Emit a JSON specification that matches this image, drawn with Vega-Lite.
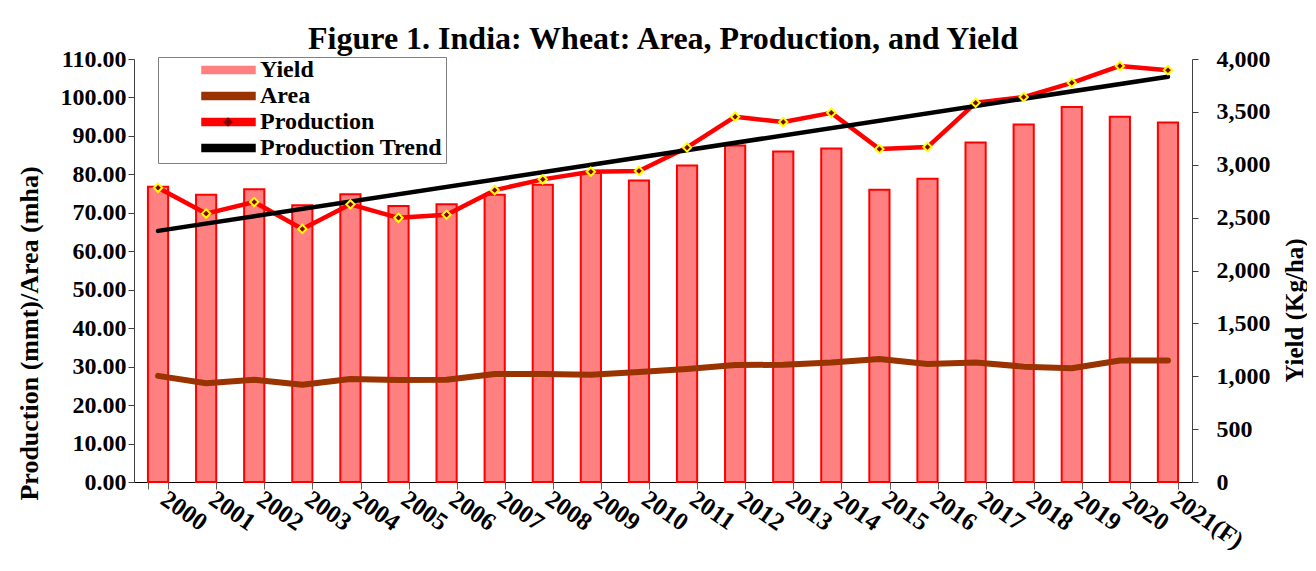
{
  "$schema": "https://vega.github.io/schema/vega-lite/v6.json",
  "width": 1058,
  "height": 423,
  "padding": {"left": 16, "top": 23, "right": 0, "bottom": 0},
  "background": "white",
  "title": {
    "text": "Figure 1. India: Wheat: Area, Production, and Yield",
    "font": "Liberation Serif",
    "fontSize": 32,
    "fontWeight": "bold",
    "color": "black",
    "anchor": "middle",
    "offset": -9
  },
  "config": {
    "view": {"stroke": null},
    "axis": {"grid": false, "labelFont": "Liberation Serif", "titleFont": "Liberation Serif", "labelColor": "black", "titleColor": "black", "labelFontWeight": "bold", "titleFontWeight": "bold"}
  },
  "data": {
    "values": [
      {"year": "2000", "yield": 2791, "area": 27.6, "production": 76.5, "trend": 65.3},
      {"year": "2001", "yield": 2716, "area": 25.7, "production": 69.8, "trend": null},
      {"year": "2002", "yield": 2769, "area": 26.6, "production": 72.8, "trend": null},
      {"year": "2003", "yield": 2618, "area": 25.3, "production": 65.8, "trend": null},
      {"year": "2004", "yield": 2722, "area": 26.8, "production": 72.2, "trend": null},
      {"year": "2005", "yield": 2611, "area": 26.5, "production": 68.7, "trend": null},
      {"year": "2006", "yield": 2627, "area": 26.6, "production": 69.5, "trend": null},
      {"year": "2007", "yield": 2716, "area": 28.1, "production": 75.9, "trend": null},
      {"year": "2008", "yield": 2811, "area": 28.1, "production": 78.7, "trend": null},
      {"year": "2009", "yield": 2921, "area": 27.9, "production": 80.7, "trend": null},
      {"year": "2010", "yield": 2851, "area": 28.6, "production": 80.9, "trend": null},
      {"year": "2011", "yield": 2993, "area": 29.4, "production": 87.0, "trend": null},
      {"year": "2012", "yield": 3182, "area": 30.4, "production": 95.0, "trend": null},
      {"year": "2013", "yield": 3125, "area": 30.5, "production": 93.6, "trend": null},
      {"year": "2014", "yield": 3154, "area": 31.1, "production": 96.0, "trend": null},
      {"year": "2015", "yield": 2764, "area": 32.0, "production": 86.6, "trend": null},
      {"year": "2016", "yield": 2868, "area": 30.7, "production": 87.1, "trend": null},
      {"year": "2017", "yield": 3211, "area": 31.1, "production": 98.6, "trend": null},
      {"year": "2018", "yield": 3381, "area": 30.0, "production": 100.1, "trend": null},
      {"year": "2019", "yield": 3546, "area": 29.6, "production": 103.8, "trend": null},
      {"year": "2020", "yield": 3454, "area": 31.6, "production": 108.2, "trend": null},
      {"year": "2021(F)", "yield": 3400, "area": 31.6, "production": 107.1, "trend": 105.4}
    ]
  },
  "encoding": {
    "x": {
      "field": "year",
      "type": "ordinal",
      "sort": null,
      "scale": {"paddingInner": 0.58, "paddingOuter": 0.29},
      "axis": {
        "title": null,
        "labelAngle": 35,
        "labelAlign": "left",
        "labelBaseline": "top",
        "labelFontSize": 25,
        "labelPadding": -3,
        "labelOffset": 12,
        "tickBand": "extent",
        "tickSize": 7,
        "domainColor": "black",
        "tickColor": "#606060"
      }
    }
  },
  "layer": [
    {
      "mark": {"type": "bar", "stroke": "#FF0000", "strokeWidth": 2},
      "encoding": {
        "y": {
          "field": "yield",
          "type": "quantitative",
          "scale": {"domain": [0, 4000]},
          "axis": {
            "orient": "right",
            "title": "Yield (Kg/ha)",
            "values": [0, 500, 1000, 1500, 2000, 2500, 3000, 3500, 4000],
            "format": ",.0f",
            "labelFontSize": 24,
            "labelPadding": 18,
            "tickSize": 6,
            "domainColor": "#404040",
            "tickColor": "#404040",
            "titleFontSize": 25,
            "titleAngle": 270,
            "titleBaseline": "top",
            "titleY": 251,
            "titlePadding": 12
          }
        },
        "color": {
          "datum": "Yield",
          "type": "nominal",
          "scale": {
            "domain": ["Yield", "Area", "Production", "Production Trend"],
            "range": ["#FF8080", "#993300", "#FF0000", "#000000"]
          },
          "legend": {
            "title": null,
            "orient": "none",
            "legendX": 24,
            "legendY": -2,
            "padding": 3,
            "strokeColor": "#808080",
            "fillColor": "white",
            "labelFont": "Liberation Serif",
            "labelFontSize": 24,
            "labelFontWeight": "bold",
            "labelColor": "black",
            "labelOffset": 4,
            "labelLimit": 400,
            "symbolOffset": 40,
            "symbolSize": 2809,
            "clipHeight": 20,
            "rowPadding": 2,
            "symbolType": "M-1,-0.13H1V0.13H-1Z",
            "symbolStrokeWidth": 1.5
          }
        }
      }
    },
    {
      "transform": [{"fold": ["area", "production", "trend"], "as": ["series", "value"]}],
      "encoding": {
        "y": {
          "field": "value",
          "type": "quantitative",
          "scale": {"domain": [0, 110]},
          "axis": {
            "orient": "left",
            "title": "Production (mmt)/Area (mha)",
            "values": [0, 10, 20, 30, 40, 50, 60, 70, 80, 90, 100, 110],
            "format": ".2f",
            "labelFontSize": 24,
            "labelPadding": 2,
            "tickSize": 6,
            "domainColor": "#404040",
            "tickColor": "#404040",
            "titleFontSize": 26,
            "titleY": 274,
            "titlePadding": 18
          }
        }
      },
      "layer": [
        {
          "transform": [{"filter": "datum.series === 'area'"}],
          "mark": {"type": "line", "strokeWidth": 6, "strokeCap": "round", "strokeJoin": "round"},
          "encoding": {"color": {"datum": "Area", "type": "nominal"}}
        },
        {
          "transform": [{"filter": "datum.series === 'production'"}],
          "mark": {"type": "line", "strokeWidth": 4.5, "strokeJoin": "round"},
          "encoding": {"color": {"datum": "Production", "type": "nominal"}}
        },
        {
          "transform": [{"filter": "datum.series === 'trend' && datum.value != null"}],
          "mark": {"type": "line", "strokeWidth": 4.5, "strokeCap": "round"},
          "encoding": {"color": {"datum": "Production Trend", "type": "nominal"}}
        },
        {
          "transform": [{"filter": "datum.series === 'production'"}],
          "mark": {"type": "point", "filled": true, "fill": "#800000", "stroke": "#FFFF00", "strokeWidth": 2, "size": 70, "opacity": 1},
          "encoding": {
            "shape": {
              "datum": "Production",
              "type": "nominal",
              "scale": {"domain": ["Production"], "range": ["diamond"]},
              "legend": {
                "title": null,
                "orient": "none",
                "legendX": 88,
                "legendY": 58,
                "padding": 0,
                "strokeColor": "transparent",
                "fillColor": "transparent",
                "labelExpr": "''",
                "labelFontSize": 8,
                "labelOffset": 0,
                "clipHeight": 10,
                "symbolOffset": 0,
                "symbolSize": 90,
                "symbolFillColor": "#800000",
                "symbolStrokeColor": "#FFFF00",
                "symbolStrokeWidth": 2,
                "symbolOpacity": 1
              }
            }
          }
        }
      ]
    }
  ],
  "resolve": {"scale": {"y": "independent"}}
}
